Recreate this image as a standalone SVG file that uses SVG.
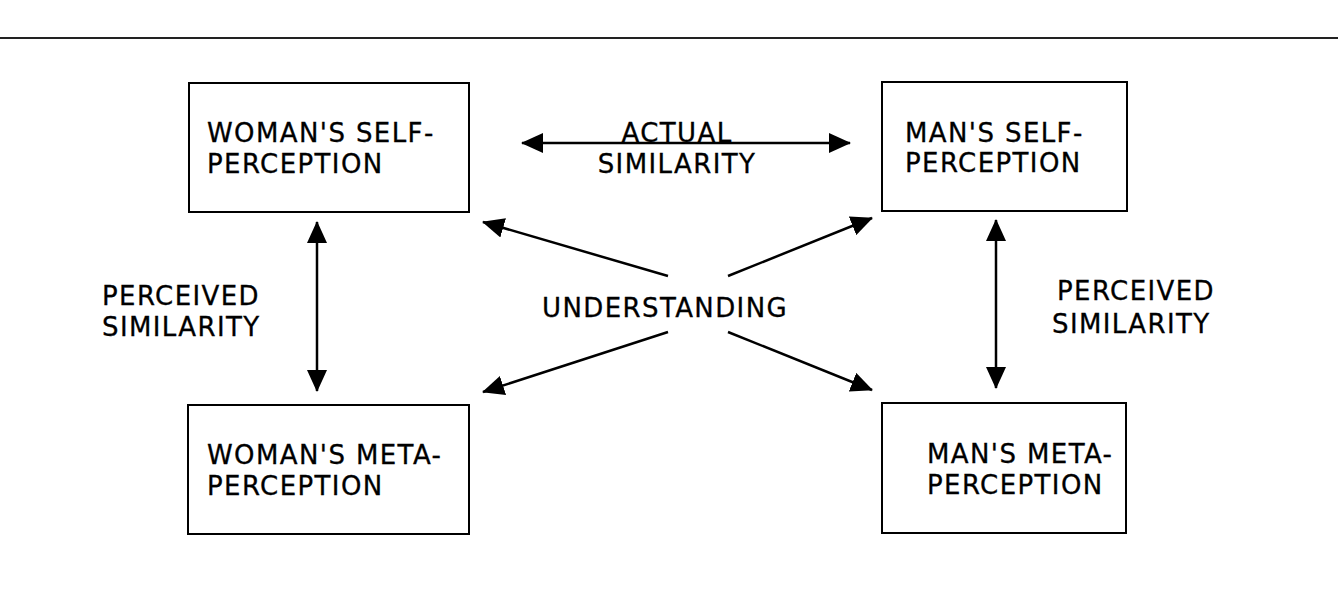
<svg xmlns="http://www.w3.org/2000/svg" width="1338" height="592" viewBox="0 0 1338 592">
<style>
.box{fill:#fff;stroke:#000;stroke-width:2}
.t{font-family:"DejaVu Sans",Verdana,sans-serif;font-size:26px;letter-spacing:1.4px;fill:#000;stroke:#000;stroke-width:0.3}
.c{stroke:#000;stroke-width:2.5;fill:none;marker-end:url(#ah)}
.d{marker-start:url(#ah)}
</style>
<defs>
<marker id="ah" viewBox="0 0 22 20" refX="21" refY="10" markerWidth="22" markerHeight="20" markerUnits="userSpaceOnUse" orient="auto-start-reverse">
<path d="M0,0 L22,10 L0,20 z" fill="#000"/>
</marker>
</defs>
<rect width="1338" height="592" fill="#fff"/>
<line x1="0" y1="38" x2="1338" y2="38" stroke="#222" stroke-width="2"/>
<g id="woman-self">
<rect class="box" x="189" y="83" width="280" height="129"/>
<text class="t" x="207" y="142">WOMAN'S SELF-</text>
<text class="t" x="207" y="173">PERCEPTION</text>
</g>
<g id="man-self">
<rect class="box" x="882" y="82" width="245" height="129"/>
<text class="t" x="905" y="142">MAN'S SELF-</text>
<text class="t" x="905" y="172">PERCEPTION</text>
</g>
<g id="woman-meta">
<rect class="box" x="188" y="405" width="281" height="129"/>
<text class="t" x="207" y="464">WOMAN'S META-</text>
<text class="t" x="207" y="495">PERCEPTION</text>
</g>
<g id="man-meta">
<rect class="box" x="882" y="403" width="244" height="130"/>
<text class="t" x="927" y="463">MAN'S META-</text>
<text class="t" x="927" y="494">PERCEPTION</text>
</g>
<g id="connectors">
<line class="c d" x1="522" y1="143" x2="850" y2="143"/>
<line class="c d" x1="317" y1="222" x2="317" y2="391"/>
<line class="c d" x1="996" y1="220" x2="996" y2="388"/>
<line class="c" x1="668" y1="276" x2="483" y2="222"/>
<line class="c" x1="728" y1="276" x2="872" y2="218"/>
<line class="c" x1="668" y1="332" x2="483" y2="392"/>
<line class="c" x1="728" y1="332" x2="872" y2="390"/>
</g>
<g id="labels">
<text class="t" x="677" y="142" text-anchor="middle">ACTUAL</text>
<text class="t" x="677" y="173" text-anchor="middle">SIMILARITY</text>
<text class="t" x="102" y="305">PERCEIVED</text>
<text class="t" x="102" y="336">SIMILARITY</text>
<text class="t" x="1057" y="300">PERCEIVED</text>
<text class="t" x="1052" y="333">SIMILARITY</text>
<text class="t" x="542" y="317">UNDERSTANDING</text>
</g>
</svg>
